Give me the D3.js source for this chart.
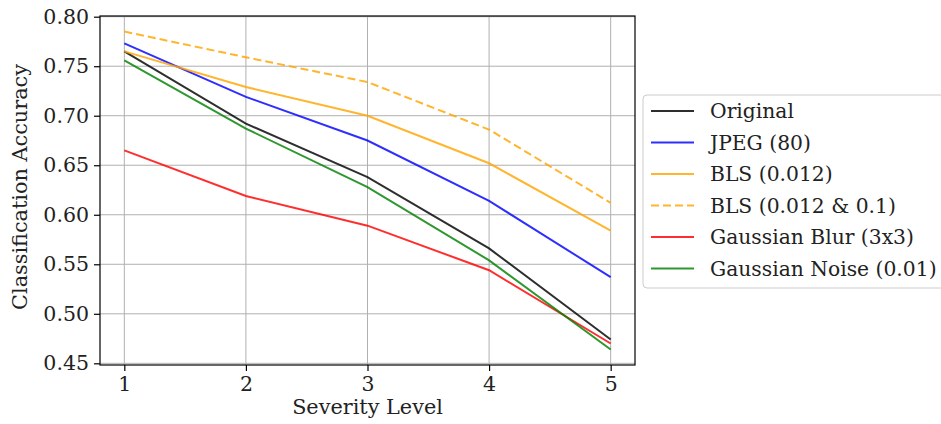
<!DOCTYPE html>
<html>
<head>
<meta charset="utf-8">
<script src="https://cdn.jsdelivr.net/npm/d3@7"></script>
<style>
  body { margin: 0; background: #fff; }
  svg { display: block; font-family: "DejaVu Serif", serif; }
</style>
</head>
<body>
<svg id="chart" width="941" height="424"></svg>
<script>
// severity levels on the x axis
const levels = [1, 2, 3, 4, 5];
const yTicks = [0.45, 0.50, 0.55, 0.60, 0.65, 0.70, 0.75, 0.80];

// accuracy per method
const original      = [0.765, 0.692, 0.638, 0.566, 0.474];
const jpeg80        = [0.773, 0.719, 0.675, 0.614, 0.537];
const bls012        = [0.765, 0.729, 0.700, 0.652, 0.584];
const bls012and01   = [0.785, 0.759, 0.734, 0.686, 0.612];
const gaussianBlur  = [0.665, 0.619, 0.589, 0.544, 0.470];
const gaussianNoise = [0.756, 0.687, 0.628, 0.554, 0.464];

const series = [
  { name: 'Original', values: original, color: '#000000' },
  { name: 'JPEG (80)', values: jpeg80, color: '#0000ff' },
  { name: 'BLS (0.012)', values: bls012, color: '#ffa500' },
  { name: 'BLS (0.012 & 0.1)', values: bls012and01, color: '#ffa500', dash: '8 4' },
  { name: 'Gaussian Blur (3x3)', values: gaussianBlur, color: '#ff0000' },
  { name: 'Gaussian Noise (0.01)', values: gaussianNoise, color: '#008000' },
];

const svg = d3.select('#chart');
const plot = { left: 100, right: 635, top: 16, bottom: 365 };

const x = d3.scaleLinear().domain([0.8, 5.2]).range([plot.left, plot.right]);
const y = d3.scaleLinear().domain([0.4483, 0.8007]).range([plot.bottom, plot.top]);

// grid
const grid = svg.append('g').attr('stroke', '#b0b0b0').attr('stroke-width', 1);
grid.selectAll('.gx').data(levels).join('line')
  .attr('x1', (d) => x(d)).attr('x2', (d) => x(d))
  .attr('y1', plot.top).attr('y2', plot.bottom);
grid.selectAll('.gy').data(yTicks).join('line')
  .attr('x1', plot.left).attr('x2', plot.right)
  .attr('y1', (d) => y(d)).attr('y2', (d) => y(d));

// lines
const line = d3.line().x((d, i) => x(levels[i])).y((d) => y(d));
svg.append('g').selectAll('path').data(series).join('path')
  .attr('d', (d) => line(d.values))
  .attr('fill', 'none')
  .attr('stroke', (d) => d.color)
  .attr('stroke-opacity', 0.82)
  .attr('stroke-width', 2)
  .attr('stroke-dasharray', (d) => d.dash || null);

// frame
svg.append('rect')
  .attr('x', plot.left).attr('y', plot.top)
  .attr('width', plot.right - plot.left).attr('height', plot.bottom - plot.top)
  .attr('fill', 'none').attr('stroke', '#000').attr('stroke-width', 1.2);

// axes
const xAxis = d3.axisBottom(x).tickValues(levels).tickFormat(d3.format('d')).tickSize(6).tickPadding(5);
const yAxis = d3.axisLeft(y).tickValues(yTicks).tickFormat(d3.format('.2f')).tickSize(6).tickPadding(5);

const gx = svg.append('g').attr('transform', `translate(0,${plot.bottom})`).call(xAxis);
const gy = svg.append('g').attr('transform', `translate(${plot.left},0)`).call(yAxis);
[gx, gy].forEach((g) => {
  g.select('.domain').remove();
  g.selectAll('.tick line').attr('stroke', '#000').attr('stroke-width', 1.2);
  g.selectAll('.tick text').attr('fill', '#222').style('font-size', '20.5px').style('font-family', '"DejaVu Serif", serif');
});

svg.append('text')
  .attr('x', (plot.left + plot.right) / 2).attr('y', 414)
  .attr('text-anchor', 'middle').attr('fill', '#222')
  .style('font-size', '20.8px')
  .text('Severity Level');

svg.append('text')
  .attr('transform', `translate(27,187) rotate(-90)`)
  .attr('text-anchor', 'middle').attr('fill', '#222')
  .style('font-size', '20.8px')
  .text('Classification Accuracy');

// legend
const legend = svg.append('g').attr('transform', 'translate(643,95)');
legend.append('rect')
  .attr('x', 0).attr('y', 0).attr('width', 310).attr('height', 193)
  .attr('rx', 4)
  .attr('fill', '#fff').attr('stroke', '#cccccc').attr('stroke-width', 1);
const rows = legend.selectAll('.row').data(series).join('g')
  .attr('transform', (d, i) => `translate(0,${16 + i * 31.5})`);
rows.append('line')
  .attr('x1', 8).attr('x2', 51).attr('y1', 0).attr('y2', 0)
  .attr('stroke', (d) => d.color).attr('stroke-opacity', 0.82)
  .attr('stroke-width', 2)
  .attr('stroke-dasharray', (d) => d.dash || null);
rows.append('text')
  .attr('x', 67).attr('y', 0).attr('dy', '0.35em')
  .attr('fill', '#222')
  .style('font-size', '20.3px')
  .text((d) => d.name);
</script>
</body>
</html>
